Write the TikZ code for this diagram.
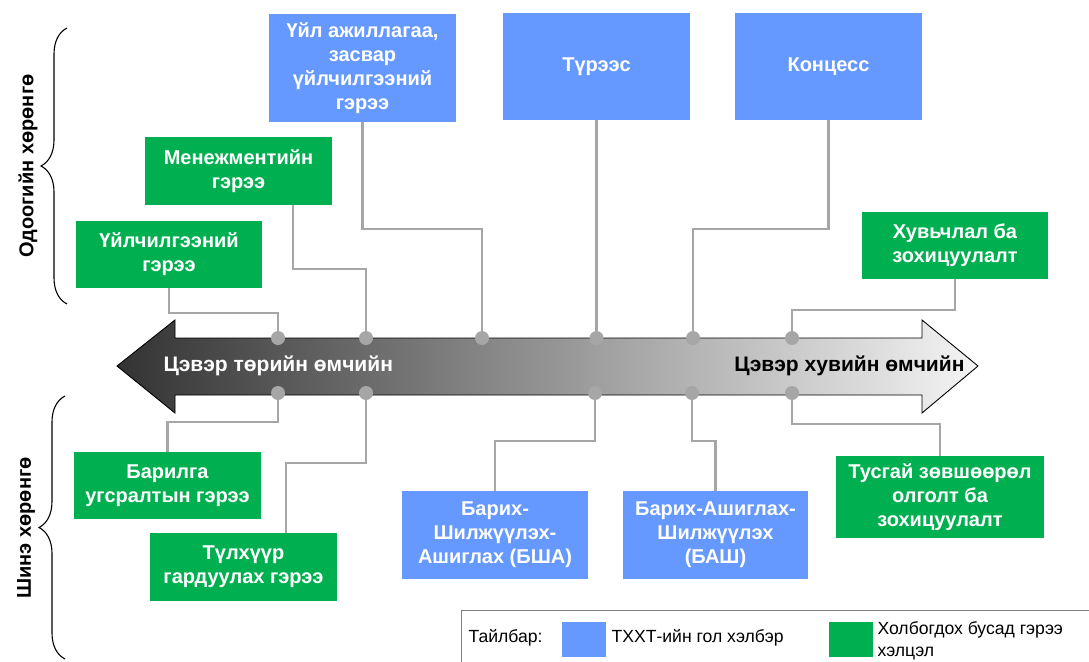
\documentclass[tikz,border=0pt]{standalone}
\usepackage{fontspec}
\setmainfont{Liberation Sans}
\usepackage{tikz}
\usetikzlibrary{positioning, arrows.meta, decorations.pathreplacing}

\definecolor{pppblue}{HTML}{6699FF}
\definecolor{pppgreen}{HTML}{00B050}
\definecolor{linkgray}{HTML}{A6A6A6}
\definecolor{arrowdark}{HTML}{333333}
\definecolor{arrowlight}{HTML}{F4F4F4}

\begin{document}
\begin{tikzpicture}[x=1pt, y=-1pt,
    box/.style={inner sep=2pt, align=center, text=white,
        font=\bfseries\fontsize{20}{24}\selectfont,
        minimum width=187pt},
    bluebox/.style={box, fill=pppblue},
    greenbox/.style={box, fill=pppgreen},
    conn/.style={draw=linkgray, line width=2.5pt},
    dot/.style={circle, fill=linkgray, inner sep=0pt, minimum size=14pt},
    sidebrace/.style={decorate, decoration={brace, amplitude=26pt, aspect=0.5}, line width=1.1pt},
    sidelabel/.style={rotate=90, font=\bfseries\fontsize{20}{24}\selectfont},
    legendtext/.style={font=\fontsize{17.6}{22}\selectfont, align=left}] % Setting global styles

    \useasboundingbox (0,0) rectangle (1089,661);

    % 1. The ownership arrow (state -> private)
    \shadedraw[left color=arrowdark, right color=arrowlight, draw=black, line width=0.9pt]
        (117,366) -- (175,320) -- (175,338) -- (922,338) -- (922,320) -- (978,366)
        -- (922,413) -- (922,395) -- (175,395) -- (175,413) -- cycle;
    \node[anchor=west, text=white, font=\bfseries\fontsize{21}{24}\selectfont] (stateend) at (160,366) {Цэвэр төрийн өмчийн};
    \node[anchor=east, text=black, font=\bfseries\fontsize{21}{24}\selectfont] (privend) at (968,366) {Цэвэр хувийн өмчийн};

    % 2. Boxes above the arrow (existing assets)
    \node[bluebox, minimum height=107pt] (oms) at (362.5,68) {Үйл ажиллагаа,\\засвар\\үйлчилгээний\\гэрээ};
    \node[bluebox, minimum height=107pt] (lease) at (596.5,66.5) {Түрээс};
    \node[bluebox, minimum height=107pt] (conc) at (828.5,66.5) {Концесс};
    \node[greenbox, minimum height=68pt] (mgmt) at (238.5,171) {Менежментийн\\гэрээ};
    \node[greenbox, minimum height=67pt, minimum width=186pt] (svc) at (169,254.5) {Үйлчилгээний\\гэрээ};
    \node[greenbox, minimum height=67pt, minimum width=186pt] (priv) at (955,245.5) {Хувьчлал ба\\зохицуулалт};

    % 3. Boxes below the arrow (new assets)
    \node[greenbox, minimum height=67pt] (build) at (167.5,485.5) {Барилга\\угсралтын гэрээ};
    \node[greenbox, minimum height=68pt] (turnkey) at (243.5,567) {Түлхүүр\\гардуулах гэрээ};
    \node[bluebox, minimum height=88pt, minimum width=186pt] (bto) at (495,535) {Барих-\\Шилжүүлэх-\\Ашиглах (БША)};
    \node[bluebox, minimum height=88pt, minimum width=185pt] (bot) at (715.5,535) {Барих-Ашиглах-\\Шилжүүлэх\\(БАШ)};
    \node[greenbox, minimum height=82pt, minimum width=208pt] (lic) at (940,497) {Тусгай зөвшөөрөл\\олголт ба\\зохицуулалт};

    % 4. Dots on the arrow
    \node[dot] (du1) at (278,338) {};
    \node[dot] (du2) at (366,338) {};
    \node[dot] (du3) at (482,338) {};
    \node[dot] (du4) at (596.5,338) {};
    \node[dot] (du5) at (693,338) {};
    \node[dot] (du6) at (792,338) {};
    \node[dot] (dl1) at (278,393) {};
    \node[dot] (dl2) at (366,393) {};
    \node[dot] (dl3) at (595,393) {};
    \node[dot] (dl4) at (692,393) {};
    \node[dot] (dl5) at (792,393) {};

    % 5. Connectors, upper side
    \draw[conn] (svc.south) -- ++(0,25) -| (du1);
    \draw[conn] ([xshift=54.5pt]mgmt.south) -- ++(0,64) -| (du2);
    \draw[conn] (oms.south) -- ++(0,107.5) -| (du3);
    \draw[conn] (lease.south) -- (du4);
    \draw[conn] (conc.south) -- ++(0,109) -| (du5);
    \draw[conn] (priv.south) -- ++(0,31) -| (du6);

    % 6. Connectors, lower side
    \draw[conn] (build.north) -- ++(0,-30) -| (dl1);
    \draw[conn] ([xshift=42.5pt]turnkey.north) -- ++(0,-70) -| (dl2);
    \draw[conn] (bto.north) -- ++(0,-50) -| (dl3);
    \draw[conn] (bot.north) -- ++(0,-50) -| (dl4);
    \draw[conn] (lic.north) -- ++(0,-32) -| (dl5);

    % 7. Side braces with their labels
    \draw[sidebrace] (67,304) -- (67,28);
    \draw[sidebrace] (65,659) -- (65,396);
    \node[sidelabel] (existing) at (28,166) {Одоогийн хөрөнгө};
    \node[sidelabel] (newassets) at (26,528) {Шинэ хөрөнгө};

    % 8. Legend
    \draw[draw=gray, line width=1pt] (461,665) -- (461,610) -- (1095,610);
    \node[legendtext, anchor=west] (legtitle) at (465,638) {Тайлбар:};
    \node[fill=pppblue, minimum width=44pt, minimum height=35pt, inner sep=0pt] (legblue) at (584,639.5) {};
    \node[legendtext, anchor=west] (legbluetext) at (608,638) {ТХХТ-ийн гол хэлбэр};
    \node[fill=pppgreen, minimum width=44pt, minimum height=35pt, inner sep=0pt] (leggreen) at (851,639.5) {};
    \node[legendtext, anchor=west] (leggreentext) at (874,641) {Холбогдох бусад гэрээ\\хэлцэл};
\end{tikzpicture}
\end{document}
